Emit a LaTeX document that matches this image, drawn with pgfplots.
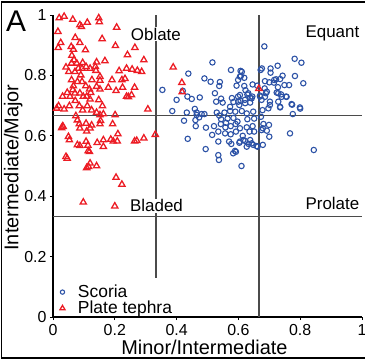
\documentclass[border=0pt]{standalone}
\usepackage{pgfplots}
\pgfplotsset{compat=1.18}
\usepackage{fontspec}
\setmainfont{Liberation Sans}
\definecolor{scblue}{RGB}{44,82,166}
\definecolor{ptred}{RGB}{236,28,36}
\definecolor{qline}{RGB}{75,75,75}
\begin{document}
\begin{tikzpicture}
\begin{axis}[
  name=ax, at={(0,0)}, anchor=south west,
  scale only axis, width=309bp, height=302bp,
  xmin=0, xmax=1, ymin=0, ymax=1,
  axis x line*=bottom, axis y line*=left,
  axis line style={line width=2pt,-},
  xtick={0,0.2,0.4,0.6,0.8,1}, ytick={0,0.2,0.4,0.6,0.8,1},
  tick align=outside, major tick length=3bp,
  tick style={line width=0.8pt,black},
  /pgf/number format/assume math mode=true,
  ticklabel style={font=\fontsize{16}{16}\selectfont},
  xticklabel style={yshift=-1bp},
  xlabel={Minor/Intermediate}, ylabel={Intermediate/Major},
  xlabel style={at={(axis description cs:0.49,-0.099)}, anchor=center, font=\fontsize{20}{20}\selectfont},
  ylabel style={at={(axis description cs:-0.129,0.495)}, anchor=center, font=\fontsize{20}{20}\selectfont},
  clip=false,
  legend style={at={(axis cs:0.022,0.005)}, anchor=south west, draw=none, fill=none,
    font=\fontsize{17.5}{18}\selectfont, row sep=2bp, column sep=11bp, inner xsep=0pt, inner ysep=0pt,
    nodes={inner xsep=2bp, inner ysep=0pt}},
  legend cell align=left,
  legend image code/.code={\draw[#1,only marks,scale=0.8] plot coordinates {(0bp,0bp)};},
]
% quadrant lines
\draw[qline, line width=1.3pt] (axis cs:0,0.6667) -- (axis cs:1,0.6667);
\draw[qline, line width=1.3pt] (axis cs:0,0.3333) -- (axis cs:1,0.3333);
\draw[qline, line width=1.3pt] (axis cs:0.3333,0.13) -- (axis cs:0.3333,1);
\draw[qline, line width=1.3pt] (axis cs:0.6667,0) -- (axis cs:0.6667,1);

\addplot[only marks, mark=o, mark size=2.7pt, color=scblue, mark options={line width=1.1pt}] coordinates {
(0.684,0.896)(0.516,0.843)(0.782,0.855)(0.804,0.842)(0.438,0.806)(0.576,0.818)(0.607,0.815)
(0.672,0.818)(0.676,0.823)(0.704,0.823)(0.727,0.832)(0.704,0.809)(0.490,0.790)(0.510,0.779)
(0.540,0.778)(0.605,0.796)(0.599,0.785)(0.619,0.792)(0.743,0.799)(0.783,0.798)(0.722,0.787)
(0.735,0.788)(0.686,0.781)(0.700,0.777)(0.715,0.776)(0.810,0.774)(0.354,0.752)(0.538,0.765)
(0.524,0.741)(0.594,0.766)(0.619,0.765)(0.646,0.770)(0.661,0.766)(0.623,0.751)(0.629,0.737)
(0.749,0.768)(0.764,0.768)(0.728,0.761)(0.685,0.757)(0.689,0.741)(0.724,0.743)(0.738,0.737)
(0.754,0.730)(0.435,0.730)(0.449,0.722)(0.475,0.727)(0.400,0.719)(0.544,0.723)(0.528,0.713)
(0.549,0.710)(0.579,0.725)(0.599,0.730)(0.584,0.712)(0.607,0.716)(0.638,0.726)(0.645,0.730)
(0.670,0.730)(0.603,0.702)(0.622,0.708)(0.638,0.710)(0.573,0.696)(0.702,0.702)(0.735,0.694)
(0.774,0.703)(0.800,0.690)(0.386,0.682)(0.433,0.677)(0.459,0.689)(0.465,0.677)(0.481,0.672)
(0.490,0.672)(0.530,0.677)(0.555,0.677)(0.573,0.682)(0.590,0.680)(0.611,0.682)(0.627,0.674)
(0.648,0.680)(0.678,0.685)(0.697,0.691)(0.776,0.672)(0.424,0.650)(0.461,0.652)(0.473,0.661)
(0.538,0.667)(0.544,0.655)(0.565,0.657)(0.584,0.659)(0.597,0.647)(0.629,0.655)(0.651,0.657)
(0.673,0.663)(0.462,0.632)(0.495,0.627)(0.521,0.632)(0.543,0.639)(0.560,0.643)(0.558,0.628)
(0.575,0.632)(0.591,0.639)(0.605,0.625)(0.627,0.628)(0.646,0.632)(0.681,0.639)(0.699,0.636)
(0.679,0.625)(0.515,0.603)(0.535,0.614)(0.557,0.608)(0.575,0.605)(0.592,0.614)(0.614,0.600)
(0.636,0.614)(0.651,0.614)(0.692,0.617)(0.700,0.597)(0.767,0.608)(0.436,0.590)(0.535,0.581)
(0.570,0.581)(0.577,0.573)(0.603,0.577)(0.622,0.583)(0.633,0.573)(0.627,0.564)(0.643,0.575)
(0.659,0.566)(0.679,0.570)(0.494,0.556)(0.583,0.542)(0.592,0.547)(0.535,0.536)(0.537,0.520)
(0.610,0.500)(0.844,0.553)(0.420,0.749)(0.465,0.669)(0.611,0.812)(0.608,0.798)(0.716,0.785)
(0.675,0.619)(0.662,0.564)(0.648,0.570)(0.605,0.581)(0.638,0.586)(0.616,0.586)(0.589,0.550)
(0.605,0.735)(0.632,0.741)(0.643,0.724)(0.621,0.719)(0.600,0.713)(0.729,0.741)(0.740,0.729)
(0.756,0.729)(0.692,0.746)(0.686,0.729)(0.670,0.733)(0.675,0.719)(0.729,0.713)(0.702,0.713)
(0.735,0.696)(0.772,0.705)(0.799,0.694)
};
\addlegendentry{Scoria}

\addplot[only marks, mark=triangle, mark size=3.6pt, color=ptred, mark options={line width=1.3pt}] coordinates {
(0.020,0.990)(0.036,0.995)(0.064,0.985)(0.148,0.990)(0.087,0.967)(0.111,0.975)(0.150,0.977)
(0.092,0.961)(0.016,0.945)(0.206,0.959)(0.025,0.908)(0.017,0.892)(0.072,0.925)(0.059,0.895)
(0.087,0.908)(0.066,0.886)(0.105,0.884)(0.159,0.921)(0.202,0.898)(0.241,0.868)(0.265,0.892)
(0.294,0.851)(0.061,0.866)(0.068,0.851)(0.077,0.840)(0.060,0.840)(0.096,0.842)(0.141,0.844)
(0.137,0.829)(0.168,0.848)(0.042,0.827)(0.051,0.812)(0.071,0.812)(0.082,0.823)(0.094,0.823)
(0.107,0.829)(0.120,0.823)(0.139,0.816)(0.214,0.815)(0.238,0.823)(0.256,0.820)(0.273,0.816)
(0.287,0.812)(0.152,0.796)(0.126,0.785)(0.152,0.783)(0.191,0.785)(0.223,0.785)(0.233,0.789)
(0.264,0.760)(0.179,0.760)(0.204,0.749)(0.225,0.760)(0.238,0.730)(0.254,0.735)(0.060,0.785)
(0.090,0.801)(0.066,0.765)(0.079,0.779)(0.094,0.779)(0.106,0.765)(0.118,0.754)(0.122,0.743)
(0.141,0.763)(0.152,0.754)(0.031,0.730)(0.018,0.699)(0.046,0.743)(0.055,0.730)(0.071,0.741)
(0.064,0.752)(0.087,0.741)(0.098,0.730)(0.109,0.730)(0.120,0.721)(0.148,0.719)(0.160,0.699)
(0.036,0.688)(0.053,0.699)(0.072,0.716)(0.085,0.699)(0.096,0.685)(0.111,0.699)(0.125,0.685)
(0.141,0.677)(0.152,0.669)(0.163,0.672)(0.201,0.669)(0.307,0.688)(0.031,0.632)(0.028,0.626)
(0.074,0.666)(0.079,0.652)(0.085,0.639)(0.087,0.625)(0.107,0.641)(0.125,0.635)(0.152,0.639)
(0.109,0.615)(0.120,0.625)(0.193,0.639)(0.154,0.650)(0.050,0.597)(0.053,0.586)(0.079,0.570)
(0.107,0.581)(0.113,0.568)(0.118,0.547)(0.143,0.577)(0.163,0.586)(0.187,0.588)(0.210,0.606)
(0.195,0.582)(0.208,0.582)(0.264,0.582)(0.271,0.584)(0.294,0.592)(0.331,0.604)(0.042,0.531)
(0.120,0.509)(0.115,0.498)(0.141,0.500)(0.204,0.462)(0.417,0.776)(0.389,0.827)(0.418,0.745)
(0.666,0.756)(0.087,0.567)(0.163,0.564)(0.114,0.550)(0.046,0.525)(0.109,0.494)(0.223,0.439)
(0.098,0.380)(0.200,0.367)(0.033,0.630)(0.012,0.691)(0.244,0.729)
};
\addlegendentry{Plate tephra}

% region labels
\node[fill=white, inner sep=1pt, font=\fontsize{17}{17}\selectfont] at (axis cs:0.333,0.937) {Oblate};
\node[fill=white, inner sep=1pt, font=\fontsize{17}{17}\selectfont] at (axis cs:0.335,0.368) {Bladed};
\node[anchor=east, inner sep=1pt, font=\fontsize{17}{17}\selectfont] at (axis cs:0.995,0.94) {Equant};
\node[anchor=east, inner sep=1pt, font=\fontsize{17}{17}\selectfont] at (axis cs:0.995,0.377) {Prolate};
\end{axis}
\node[font=\fontsize{30}{30}\selectfont] at (-37bp,296bp) {A};
\draw[line width=1.8pt] (-51.5bp,-41bp) rectangle (330bp,315bp);
\pgfresetboundingbox
\path (-53bp,-45bp) rectangle (312bp,317bp);
\end{tikzpicture}
\end{document}
